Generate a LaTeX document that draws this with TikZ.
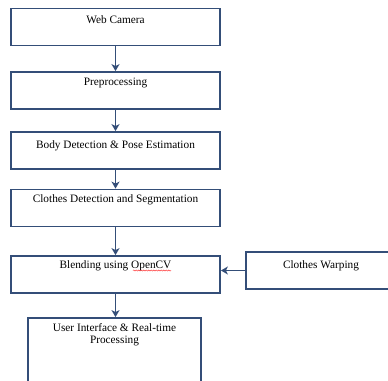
\documentclass[tikz,border=0pt]{standalone}
\usepackage{fontspec}
\setmainfont{Liberation Serif}
\usetikzlibrary{positioning,arrows.meta,decorations.pathmorphing}
\definecolor{boxblue}{RGB}{52,78,120}
\tikzset{
  stagebox/.style={draw=boxblue, line width=1.8pt, minimum width=209pt,
    minimum height=37pt, inner sep=0pt},
  caption/.style={font=\fontsize{11.3}{11.8}\selectfont, align=center, inner sep=0pt},
  flow/.style={draw=boxblue, line width=1.8pt, -{Stealth[length=7pt,width=8pt,inset=2pt]}}
}
\begin{document}
\begin{tikzpicture}[x=1pt, y=-1pt]
  \useasboundingbox (0,0) rectangle (388,380);
  \clip (0,0) rectangle (388,380);

  % main pipeline
  \node[stagebox] (cam)   at (115.5,27)    {};
  \node[stagebox] (pre)   at (115.5,90.5)  {};
  \node[stagebox] (body)  at (115.5,150.5) {};
  \node[stagebox] (cloth) at (115.5,208)   {};
  \node[stagebox] (blend) at (115.5,274.5) {};
  \node[stagebox, minimum width=160pt] (warp) at (326,270.5) {};
  \node[stagebox, minimum width=173pt, minimum height=90pt] (ui) at (114.5,363) {};

  % captions
  \node[caption, anchor=base] (camtxt)   at ([yshift=-16pt]cam.north)   {Web Camera};
  \node[caption, anchor=base] (pretxt)   at ([yshift=-14.5pt]pre.north) {Preprocessing};
  \node[caption, anchor=base] (bodytxt)  at ([yshift=-17pt]body.north)  {Body Detection \& Pose Estimation};
  \node[caption, anchor=base] (clothtxt) at ([yshift=-14pt]cloth.north) {Clothes Detection and Segmentation};
  \node[caption, anchor=base] (blendtxt) at ([yshift=-13.5pt]blend.north) {Blending using OpenCV};
  \node[caption, anchor=base] (warptxt)  at ([xshift=-5pt,yshift=-17.5pt]warp.north) {Clothes Warping};
  \node[caption, anchor=north] (uitxt)   at ([yshift=-6.5pt]ui.north)   {User Interface \& Real-time\\Processing};

  % spell-check mark
  \draw[red!80, line width=0.5pt, decorate,
        decoration={snake, amplitude=0.5pt, segment length=2.5pt}]
    (133,270.5) -- (171,270.5);

  % arrows
  \draw[flow] (cam)   -- (pre);
  \draw[flow] (pre)   -- (body);
  \draw[flow] (body)  -- (cloth);
  \draw[flow] (cloth) -- (blend);
  \draw[flow] (blend.south) -- (blend.south |- ui.north);
  \draw[flow] (warp.west) -- (warp.west -| blend.east);
\end{tikzpicture}
\end{document}
